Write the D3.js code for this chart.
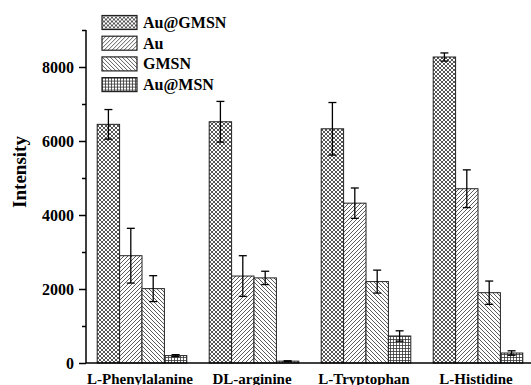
<!DOCTYPE html>
<html>
<head>
<meta charset="utf-8">
<script src="https://cdn.jsdelivr.net/npm/d3@7"></script>
<style>
  body { margin: 0; background: #fff; }
  svg { display: block; }
  text { font-family: "Liberation Serif", "Times New Roman", serif; font-weight: bold; fill: #000; }
</style>
</head>
<body>
<svg id="chart" width="531" height="385"></svg>
<script>
// data
const categories = ["L-Phenylalanine", "DL-arginine", "L-Tryptophan", "L-Histidine"];
const seriesNames = ["Au@GMSN", "Au", "GMSN", "Au@MSN"];
const auGmsn = [6450, 6520, 6330, 8270];
const auGmsnErr = [400, 550, 710, 110];
const au = [2900, 2350, 4320, 4710];
const auErr = [740, 550, 410, 510];
const gmsn = [2010, 2300, 2200, 1900];
const gmsnErr = [350, 180, 310, 315];
const auMsn = [200, 50, 730, 270];
const auMsnErr = [25, 10, 140, 60];
const yTicks = [0, 2000, 4000, 6000, 8000];
const yMinor = [1000, 3000, 5000, 7000, 9000];

const values = [auGmsn, au, gmsn, auMsn];
const errors = [auGmsnErr, auErr, gmsnErr, auMsnErr];
const patternIds = ["pCross", "pFwd", "pBack", "pGrid"];

const svg = d3.select("#chart");
const x0 = 86, yBase = 363;

const y = d3.scaleLinear().domain([0, 9000]).range([yBase, 30]);
const x = d3.scaleBand().domain(categories).range([x0, x0 + 448])
    .paddingInner(0.2).paddingOuter(0.1);
const xs = d3.scaleBand().domain(seriesNames).range([0, x.bandwidth()]);

// hatch patterns
const defs = svg.append("defs");
function pat(id, size) {
    return defs.append("pattern").attr("id", id)
        .attr("patternUnits", "userSpaceOnUse")
        .attr("width", size).attr("height", size);
}
let p = pat("pCross", 4);
p.append("rect").attr("width", 4).attr("height", 4).attr("fill", "#fff");
p.append("path").attr("d", "M0,0L4,4M4,0L0,4")
    .attr("stroke", "#444").attr("stroke-width", 0.9);
p = pat("pFwd", 4);
p.append("rect").attr("width", 4).attr("height", 4).attr("fill", "#fff");
p.append("path").attr("d", "M-1,1L1,-1M0,4L4,0M3,5L5,3")
    .attr("stroke", "#333").attr("stroke-width", 0.8);
p = pat("pBack", 4);
p.append("rect").attr("width", 4).attr("height", 4).attr("fill", "#fff");
p.append("path").attr("d", "M-1,3L1,5M0,0L4,4M3,-1L5,1")
    .attr("stroke", "#333").attr("stroke-width", 0.8);
p = pat("pGrid", 3);
p.append("rect").attr("width", 3).attr("height", 3).attr("fill", "#fff");
p.append("path").attr("d", "M0,0.5H3M0.5,0V3")
    .attr("stroke", "#333").attr("stroke-width", 0.8);

// bars
const barData = [];
categories.forEach(function(c, i) {
    seriesNames.forEach(function(s, j) {
        barData.push({cat: c, s: s, j: j, v: values[j][i], e: errors[j][i]});
    });
});

svg.selectAll("rect.bar")
    .data(barData)
    .enter().append("rect")
    .attr("class", "bar")
    .attr("x", function(d) { return x(d.cat) + xs(d.s); })
    .attr("y", function(d) { return y(d.v); })
    .attr("width", xs.bandwidth())
    .attr("height", function(d) { return yBase - y(d.v); })
    .attr("fill", function(d) { return "url(#" + patternIds[d.j] + ")"; })
    .attr("stroke", "#222")
    .attr("stroke-width", 1);

// error bars
const eb = svg.selectAll("g.err").data(barData).enter().append("g")
    .attr("transform", function(d) { return "translate(" + (x(d.cat) + xs(d.s) + xs.bandwidth() / 2) + ",0)"; });
eb.append("line")
    .attr("y1", function(d) { return y(d.v + d.e); })
    .attr("y2", function(d) { return y(Math.max(0, d.v - d.e)); })
    .attr("stroke", "#000").attr("stroke-width", 1.3);
eb.append("line").attr("x1", -4).attr("x2", 4)
    .attr("y1", function(d) { return y(d.v + d.e); })
    .attr("y2", function(d) { return y(d.v + d.e); })
    .attr("stroke", "#000").attr("stroke-width", 1.3);
eb.append("line").attr("x1", -4).attr("x2", 4)
    .attr("y1", function(d) { return y(Math.max(0, d.v - d.e)); })
    .attr("y2", function(d) { return y(Math.max(0, d.v - d.e)); })
    .attr("stroke", "#000").attr("stroke-width", 1.3);

// y axis
const yAxis = svg.append("g").attr("transform", "translate(" + x0 + ",0)")
    .call(d3.axisLeft(y).tickValues(yTicks).tickSize(7).tickPadding(5).tickFormat(d3.format("d")));
svg.append("g").attr("transform", "translate(" + x0 + ",0)")
    .call(d3.axisLeft(y).tickValues(yMinor).tickSize(4).tickFormat(""))
    .call(function(g) { g.select(".domain").remove(); });
svg.selectAll("g .tick line").attr("stroke-width", 1.5);
yAxis.select(".domain").attr("stroke-width", 1.5).attr("d", "M0," + y(9000) + "V" + yBase);
yAxis.selectAll("text").style("font-size", "16px").style("font-family", "Liberation Serif").style("font-weight", "bold");

// x axis line
svg.append("line").attr("x1", x0).attr("x2", 531).attr("y1", yBase).attr("y2", yBase)
    .attr("stroke", "#000").attr("stroke-width", 1.5);

// category labels
svg.selectAll("text.cat").data(categories).enter().append("text")
    .attr("class", "cat")
    .attr("x", function(d) { return x(d) + x.bandwidth() / 2 - 2; })
    .attr("y", 383.5)
    .attr("text-anchor", "middle")
    .style("font-size", "15px")
    .text(function(d) { return d; });

// y label
svg.append("text")
    .attr("transform", "translate(26,172) rotate(-90)")
    .attr("text-anchor", "middle")
    .style("font-size", "19px")
    .text("Intensity");

// legend
const lg = svg.selectAll("g.leg").data(seriesNames).enter().append("g")
    .attr("transform", function(d, i) { return "translate(102," + (15.5 + i * 20.7) + ")"; });
lg.append("rect").attr("width", 35).attr("height", 14)
    .attr("fill", function(d, i) { return "url(#" + patternIds[i] + ")"; })
    .attr("stroke", "#222").attr("stroke-width", 1.2);
lg.append("text").attr("x", 41).attr("y", 12.5)
    .style("font-size", "16px")
    .text(function(d) { return d; });
</script>
</body>
</html>
